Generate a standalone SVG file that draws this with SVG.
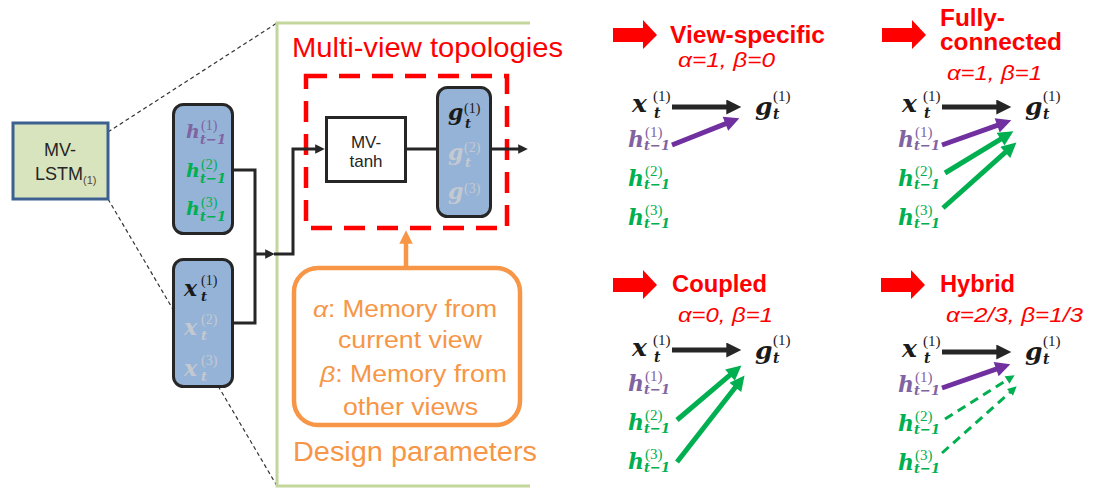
<svg xmlns="http://www.w3.org/2000/svg" width="1107" height="494" viewBox="0 0 1107 494">
<style>
.sans{font-family:"Liberation Sans",Arial,sans-serif}
.m{font-family:"DejaVu Serif",serif;font-weight:bold;font-style:italic}
.sp{font-family:"Liberation Serif",serif}
.bk{fill:#1a1a1a}.pu{fill:#8064a2}.gr{fill:#00b050}.fd{fill:#c4c9d1}
.red{fill:#ff0000}.or{fill:#f79646}
.blue{fill:#95b3d7;stroke:#262626;stroke-width:3}
.ln{fill:none;stroke:#262626;stroke-width:3}
.zoom{fill:none;stroke:#333;stroke-width:1.2;stroke-dasharray:4 3}
.pa{fill:none;stroke-width:5}
.pk{stroke:#262626}.pp{stroke:#7030a0}.pg{stroke:#00b050}
.dash{stroke-width:3;stroke-dasharray:9 6}
</style>
<defs>
<marker id="sa" viewBox="0 0 10 10" refX="5" refY="5" markerWidth="3.5" markerHeight="3.2" orient="auto" markerUnits="strokeWidth"><path d="M0,0L10,5L0,10z" fill="#262626"/></marker>
<marker id="oa" viewBox="0 0 10 10" refX="5" refY="5" markerWidth="3" markerHeight="3" orient="auto" markerUnits="strokeWidth"><path d="M0,0L10,5L0,10z" fill="#f79646"/></marker>
<marker id="hk" viewBox="0 0 10 10" refX="3" refY="5" markerWidth="3.2" markerHeight="3" orient="auto" markerUnits="strokeWidth"><path d="M0,0L10,5L0,10z" fill="#262626"/></marker>
<marker id="hp" viewBox="0 0 10 10" refX="3" refY="5" markerWidth="3.2" markerHeight="3" orient="auto" markerUnits="strokeWidth"><path d="M0,0L10,5L0,10z" fill="#7030a0"/></marker>
<marker id="hg" viewBox="0 0 10 10" refX="3" refY="5" markerWidth="3.2" markerHeight="3" orient="auto" markerUnits="strokeWidth"><path d="M0,0L10,5L0,10z" fill="#00b050"/></marker>
<polygon id="blk" points="0,8 30,8 30,0 44,15 30,29 30,22 0,22" fill="#ff0000"/>
</defs>
<rect width="1107" height="494" fill="#ffffff"/>

<g id="zoom-lines">
<line class="zoom" x1="108" y1="132" x2="277" y2="23"/>
<line class="zoom" x1="108" y1="199" x2="277" y2="486"/>
</g>

<g id="mv-lstm">
<rect x="13" y="123" width="95" height="76" fill="#d7e4bd" stroke="#3c6090" stroke-width="3"/>
<text class="sans" x="60" y="156" font-size="18" text-anchor="middle" fill="#262626">MV-</text>
<text class="sans" x="35" y="180" font-size="18" fill="#262626">LSTM<tspan font-size="11" dy="4" fill="#5a4632">(1)</tspan></text>
</g>

<g id="h-box">
<rect class="blue" x="173.5" y="104.5" width="59" height="129" rx="10"/>
<text class="m pu" x="186" y="138" font-size="19">h</text><text class="sp pu" x="201" y="130" font-size="14">(1)</text><text class="m pu" x="200" y="144" font-size="13">t−1</text>
<text class="m gr" x="186" y="177" font-size="19">h</text><text class="sp gr" x="201" y="169" font-size="14">(2)</text><text class="m gr" x="200" y="183" font-size="13">t−1</text>
<text class="m gr" x="186" y="215" font-size="19">h</text><text class="sp gr" x="201" y="207" font-size="14">(3)</text><text class="m gr" x="200" y="221" font-size="13">t−1</text>
</g>

<g id="x-box">
<rect class="blue" x="173.5" y="259.5" width="59" height="127" rx="10"/>
<text class="m bk" x="184" y="296" font-size="22">x</text><text class="sp bk" x="201" y="285" font-size="14">(1)</text><text class="m bk" x="201" y="301" font-size="13">t</text>
<text class="m fd" x="184" y="335" font-size="22">x</text><text class="sp fd" x="201" y="324" font-size="14">(2)</text><text class="m fd" x="201" y="340" font-size="13">t</text>
<text class="m fd" x="184" y="376" font-size="22">x</text><text class="sp fd" x="201" y="365" font-size="14">(3)</text><text class="m fd" x="201" y="381" font-size="13">t</text>
</g>

<g id="frame">
<path d="M530,23H277V486H530" fill="none" stroke="#c3d69b" stroke-width="3"/>
<text class="sans red" x="292" y="57" font-size="28" textLength="271" lengthAdjust="spacingAndGlyphs">Multi-view topologies</text>
</g>

<g id="topologies">
<rect x="306" y="76" width="201" height="152" fill="none" stroke="#ff0000" stroke-width="4.5" stroke-dasharray="21 12"/>
</g>

<g id="mv-tanh">
<rect x="326.5" y="117.5" width="79" height="64" fill="#ffffff" stroke="#262626" stroke-width="3"/>
<text class="sans" x="366" y="148" font-size="17" text-anchor="middle" fill="#262626">MV-</text>
<text class="sans" x="366" y="167" font-size="17" text-anchor="middle" fill="#262626">tanh</text>
</g>

<g id="g-box">
<rect class="blue" x="437.5" y="87.5" width="53" height="129" rx="10"/>
<text class="m bk" x="448" y="120" font-size="22">g</text><text class="sp bk" x="464" y="113" font-size="14">(1)</text><text class="m bk" x="465" y="128" font-size="13">t</text>
<text class="m fd" x="448" y="160" font-size="22">g</text><text class="sp fd" x="464" y="152" font-size="14">(2)</text><text class="m fd" x="465" y="167" font-size="13">t</text>
<text class="m fd" x="448" y="199" font-size="22">g</text><text class="sp fd" x="464" y="193" font-size="14">(3)</text>
</g>

<g id="design-params">
<rect x="294" y="268" width="226" height="157" rx="24" fill="#ffffff" stroke="#f79646" stroke-width="4.5"/>
<text class="sans or" x="313" y="317" font-size="23" textLength="184" lengthAdjust="spacingAndGlyphs"><tspan font-style="italic">α</tspan>: Memory from</text>
<text class="sans or" x="338" y="348" font-size="23" textLength="144" lengthAdjust="spacingAndGlyphs">current view</text>
<text class="sans or" x="320" y="382" font-size="23" textLength="187" lengthAdjust="spacingAndGlyphs"><tspan font-style="italic">β</tspan>: Memory from</text>
<text class="sans or" x="343" y="415" font-size="23" textLength="135" lengthAdjust="spacingAndGlyphs">other views</text>
<text class="sans or" x="293" y="461" font-size="27" textLength="244" lengthAdjust="spacingAndGlyphs">Design parameters</text>
</g>

<g id="panel-view-specific">
<use href="#blk" x="613" y="20"/>
<text class="sans red" x="670" y="43" font-size="23" font-weight="bold" textLength="155" lengthAdjust="spacingAndGlyphs">View-specific</text>
<text class="sans red" x="678" y="67" font-size="21" font-style="italic" textLength="97" lengthAdjust="spacingAndGlyphs">α=1, β=0</text>
<text class="m bk" x="632" y="112" font-size="25">x</text><text class="sp bk" x="653" y="101" font-size="15">(1)</text><text class="m bk" x="654" y="118" font-size="14">t</text>
<text class="m bk" x="755" y="115" font-size="25">g</text><text class="sp bk" x="773" y="101" font-size="15">(1)</text><text class="m bk" x="773" y="119" font-size="14">t</text>
<text class="m pu" x="628" y="147" font-size="22">h</text><text class="sp pu" x="645" y="137" font-size="15">(1)</text><text class="m pu" x="644" y="150" font-size="13">t−1</text>
<text class="m gr" x="628" y="186" font-size="22">h</text><text class="sp gr" x="645" y="176" font-size="15">(2)</text><text class="m gr" x="644" y="189" font-size="13">t−1</text>
<text class="m gr" x="628" y="225" font-size="22">h</text><text class="sp gr" x="645" y="215" font-size="15">(3)</text><text class="m gr" x="644" y="228" font-size="13">t−1</text>
</g>

<g id="panel-fully-connected">
<use href="#blk" x="882" y="20"/>
<text class="sans red" x="940" y="26" font-size="23" font-weight="bold" textLength="65" lengthAdjust="spacingAndGlyphs">Fully-</text>
<text class="sans red" x="940" y="50" font-size="23" font-weight="bold" textLength="122" lengthAdjust="spacingAndGlyphs">connected</text>
<text class="sans red" x="947" y="80" font-size="21" font-style="italic" textLength="95" lengthAdjust="spacingAndGlyphs">α=1, β=1</text>
<text class="m bk" x="902" y="112" font-size="25">x</text><text class="sp bk" x="923" y="101" font-size="15">(1)</text><text class="m bk" x="924" y="118" font-size="14">t</text>
<text class="m bk" x="1025" y="115" font-size="25">g</text><text class="sp bk" x="1043" y="101" font-size="15">(1)</text><text class="m bk" x="1043" y="119" font-size="14">t</text>
<text class="m pu" x="898" y="147" font-size="22">h</text><text class="sp pu" x="915" y="137" font-size="15">(1)</text><text class="m pu" x="914" y="150" font-size="13">t−1</text>
<text class="m gr" x="898" y="186" font-size="22">h</text><text class="sp gr" x="915" y="176" font-size="15">(2)</text><text class="m gr" x="914" y="189" font-size="13">t−1</text>
<text class="m gr" x="898" y="225" font-size="22">h</text><text class="sp gr" x="915" y="215" font-size="15">(3)</text><text class="m gr" x="914" y="228" font-size="13">t−1</text>
</g>

<g id="panel-coupled">
<use href="#blk" x="613" y="270"/>
<text class="sans red" x="672" y="292" font-size="23" font-weight="bold" textLength="95" lengthAdjust="spacingAndGlyphs">Coupled</text>
<text class="sans red" x="678" y="322" font-size="21" font-style="italic" textLength="95" lengthAdjust="spacingAndGlyphs">α=0, β=1</text>
<text class="m bk" x="632" y="356" font-size="25">x</text><text class="sp bk" x="653" y="345" font-size="15">(1)</text><text class="m bk" x="654" y="362" font-size="14">t</text>
<text class="m bk" x="755" y="359" font-size="25">g</text><text class="sp bk" x="773" y="345" font-size="15">(1)</text><text class="m bk" x="773" y="363" font-size="14">t</text>
<text class="m pu" x="628" y="391" font-size="22">h</text><text class="sp pu" x="645" y="381" font-size="15">(1)</text><text class="m pu" x="644" y="394" font-size="13">t−1</text>
<text class="m gr" x="628" y="430" font-size="22">h</text><text class="sp gr" x="645" y="420" font-size="15">(2)</text><text class="m gr" x="644" y="433" font-size="13">t−1</text>
<text class="m gr" x="628" y="469" font-size="22">h</text><text class="sp gr" x="645" y="459" font-size="15">(3)</text><text class="m gr" x="644" y="472" font-size="13">t−1</text>
</g>

<g id="panel-hybrid">
<use href="#blk" x="881" y="270"/>
<text class="sans red" x="940" y="292" font-size="23" font-weight="bold" textLength="75" lengthAdjust="spacingAndGlyphs">Hybrid</text>
<text class="sans red" x="946" y="322" font-size="21" font-style="italic" textLength="137" lengthAdjust="spacingAndGlyphs">α=2/3, β=1/3</text>
<text class="m bk" x="902" y="357" font-size="25">x</text><text class="sp bk" x="923" y="346" font-size="15">(1)</text><text class="m bk" x="924" y="363" font-size="14">t</text>
<text class="m bk" x="1025" y="360" font-size="25">g</text><text class="sp bk" x="1043" y="346" font-size="15">(1)</text><text class="m bk" x="1043" y="364" font-size="14">t</text>
<text class="m pu" x="898" y="392" font-size="22">h</text><text class="sp pu" x="915" y="382" font-size="15">(1)</text><text class="m pu" x="914" y="395" font-size="13">t−1</text>
<text class="m gr" x="898" y="431" font-size="22">h</text><text class="sp gr" x="915" y="421" font-size="15">(2)</text><text class="m gr" x="914" y="434" font-size="13">t−1</text>
<text class="m gr" x="898" y="470" font-size="22">h</text><text class="sp gr" x="915" y="460" font-size="15">(3)</text><text class="m gr" x="914" y="473" font-size="13">t−1</text>
</g>

<g id="connectors">
<path class="ln" d="M232,170H255V254"/>
<path class="ln" d="M232,323H255V254"/>
<path class="ln" d="M254,254H270" marker-end="url(#sa)"/>
<path class="ln" d="M274,254H293V149H320" marker-end="url(#sa)"/>
<path class="ln" d="M405,149H438"/>
<path class="ln" d="M490,149H523" marker-end="url(#sa)"/>
<path d="M406,267V237" fill="none" stroke="#f79646" stroke-width="4.5" marker-end="url(#oa)"/>

<line class="pa pk" x1="672" y1="107" x2="730.8" y2="107" marker-end="url(#hk)"/>
<line class="pa pp" x1="672" y1="145" x2="729.6" y2="122.1" marker-end="url(#hp)"/>

<line class="pa pk" x1="942" y1="107" x2="1000.8" y2="107" marker-end="url(#hk)"/>
<line class="pa pp" x1="942" y1="145" x2="1001.4" y2="123.8" marker-end="url(#hp)"/>
<line class="pa pg" x1="945" y1="173" x2="1004.4" y2="136.8" marker-end="url(#hg)"/>
<line class="pa pg" x1="943" y1="208" x2="1008.6" y2="149.4" marker-end="url(#hg)"/>

<line class="pa pk" x1="672" y1="350" x2="730.8" y2="350" marker-end="url(#hk)"/>
<line class="pa pg" x1="677" y1="420" x2="733.4" y2="372.2" marker-end="url(#hg)"/>
<line class="pa pg" x1="677" y1="462" x2="738.1" y2="383.8" marker-end="url(#hg)"/>

<line class="pa pk" x1="942" y1="352" x2="1000.8" y2="352" marker-end="url(#hk)"/>
<line class="pa pp" x1="942" y1="388" x2="1000.4" y2="367.7" marker-end="url(#hp)"/>
<line class="pa pg dash" x1="945" y1="419" x2="1009.3" y2="378.6" marker-end="url(#hg)"/>
<line class="pa pg dash" x1="942" y1="453" x2="1012" y2="390.5" marker-end="url(#hg)"/>
</g>
</svg>
